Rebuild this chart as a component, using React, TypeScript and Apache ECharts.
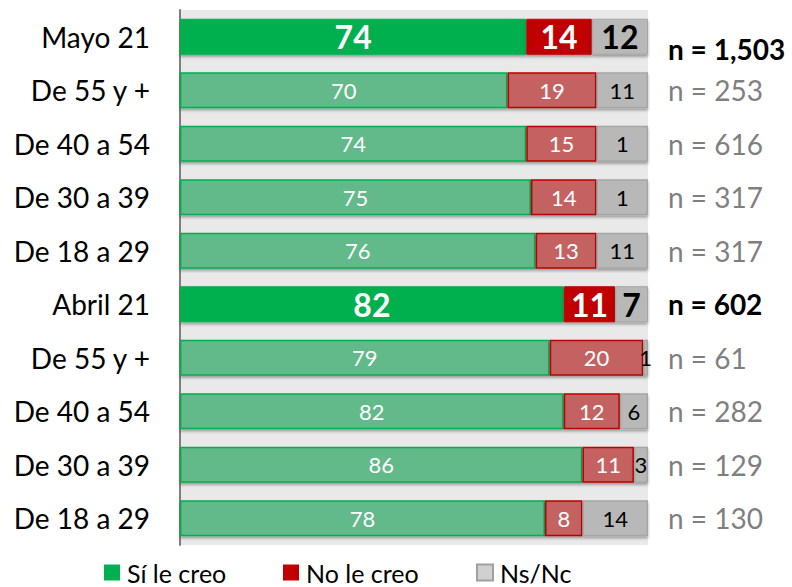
import React, { useEffect, useRef } from "react";
import * as echarts from "echarts";

const categories = ["Mayo 21", "De 55 y +", "De 40 a 54", "De 30 a 39", "De 18 a 29", "Abril 21", "De 55 y +", "De 40 a 54", "De 30 a 39", "De 18 a 29"];
const siValues = [74, 70, 74, 75, 76, 82, 79, 82, 86, 78];
const noValues = [14, 19, 15, 14, 13, 11, 20, 12, 11, 8];
const nsValues = [12, 11, 11, 11, 11, 7, 1, 6, 3, 14];
const nsLabels = ["12", "11", "1", "1", "11", "7", "1", "6", "3", "14"];
const nLabels = ["n = 1,503", "n = 253", "n = 616", "n = 317", "n = 317", "n = 602", "n = 61", "n = 282", "n = 129", "n = 130"];
const totalRows = [0, 5];
const seriesNames = ["Sí le creo", "No le creo", "Ns/Nc"];

const FONT = "Lato, 'Noto Sans', sans-serif";

export default function App() {
  const ref = useRef<HTMLDivElement>(null);
  useEffect(() => {
    document.body.style.margin = "0";
    if (!ref.current) return;
    const chart = echarts.init(ref.current, null, { renderer: "svg" });
    const isTotal = (i: number) => totalRows.includes(i);
    const shadow = { shadowColor: "rgba(0,0,0,0.35)", shadowBlur: 3, shadowOffsetY: 2 };

    const mk = (
      vals: number[],
      solid: string,
      light: string,
      border: string,
      labelColor: string,
      labels?: string[]
    ) =>
      vals.map((v, i) => ({
        value: v,
        itemStyle: isTotal(i)
          ? { color: solid, borderColor: solid === "#B8B8B8" ? "#A6A6A6" : solid, borderWidth: 1, ...shadow }
          : { color: light, borderColor: border, borderWidth: 1.5, ...shadow },
        label: {
          show: true,
          position: "inside",
          formatter: labels ? labels[i] : String(v),
          color: labelColor,
          fontFamily: FONT,
          fontSize: isTotal(i) ? 32 : 22,
          fontWeight: isTotal(i) ? "bold" : "normal",
        },
      }));

    const legendBase = (name: string, left: number) => ({
      data: [name],
      left,
      top: 560,
      padding: 0,
      itemWidth: 16,
      itemHeight: 16,
      itemGap: 8,
      icon: "rect",
      textStyle: { fontFamily: FONT, fontSize: 25, lineHeight: 24, color: "#000", padding: [0, 0, 0, 2] },
    });

    chart.setOption({
      animation: false,
      legend: [
        legendBase(seriesNames[0], 104),
        legendBase(seriesNames[1], 283),
        legendBase(seriesNames[2], 476),
      ],
      grid: {
        left: 180,
        right: 144,
        top: 10,
        height: 535,
        show: true,
        backgroundColor: "#E9E9E9",
        borderWidth: 0,
      },
      xAxis: {
        type: "value",
        min: 0,
        max: 100,
        show: false,
      },
      yAxis: [
        {
          type: "category",
          data: categories,
          inverse: true,
          axisTick: { show: false },
          axisLine: { show: true, lineStyle: { color: "#7F7F7F", width: 2 } },
          axisLabel: { color: "#000", fontFamily: FONT, fontSize: 28, margin: 30 },
        },
        {
          type: "category",
          data: nLabels,
          inverse: true,
          position: "right",
          axisTick: { show: false },
          axisLine: { show: false },
          axisLabel: {
            margin: 20,
            align: "left",
            lineHeight: 24,
            formatter: (val: string, idx: number) => {
              if (idx === 0) return "{e|}\n{b|" + val + "}";
              return isTotal(idx) ? "{b|" + val + "}" : "{g|" + val + "}";
            },
            rich: {
              e: { fontSize: 28, lineHeight: 24, fontFamily: FONT },
              b: { fontSize: 28, lineHeight: 24, fontWeight: "bold", color: "#000", fontFamily: FONT },
              g: { fontSize: 28, lineHeight: 24, color: "#7F7F7F", fontFamily: FONT },
            },
          },
        },
      ],
      series: [
        {
          name: seriesNames[0],
          type: "bar",
          stack: "t",
          barWidth: 36,
          itemStyle: { color: "#00B050" },
          data: mk(siValues, "#00B050", "#62BA8A", "#00B050", "#FFFFFF"),
        },
        {
          name: seriesNames[1],
          type: "bar",
          stack: "t",
          barWidth: 36,
          itemStyle: { color: "#C00000" },
          data: mk(noValues, "#C00000", "#C46262", "#C00000", "#FFFFFF"),
        },
        {
          name: seriesNames[2],
          type: "bar",
          stack: "t",
          barWidth: 36,
          itemStyle: { color: "#D0D0D0", borderColor: "#A0A0A0", borderWidth: 1.5 },
          data: mk(nsValues, "#B8B8B8", "#B8B8B8", "#A6A6A6", "#000000", nsLabels),
        },
      ],
    });
    return () => chart.dispose();
  }, []);
  return <div ref={ref} style={{ width: 792, height: 587 }} />;
}
